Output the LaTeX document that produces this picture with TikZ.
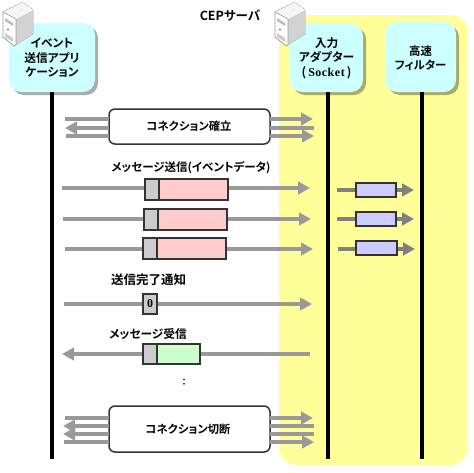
\documentclass[tikz,border=0pt]{standalone}
\usepackage{fontspec}
\setmainfont{Liberation Serif}
\newfontfamily\jp{Noto Sans CJK JP}[BoldFont={* Bold},RawFeature={+palt}]
\usetikzlibrary{arrows.meta}
\definecolor{panel}{HTML}{FFFF99}
\definecolor{cyanbox}{HTML}{CCFFFF}
\definecolor{arrowgray}{HTML}{999999}
\definecolor{darkgray}{HTML}{808080}
\definecolor{edge}{HTML}{333333}
\definecolor{pinkbox}{HTML}{FFCCCC}
\definecolor{greenbox}{HTML}{CCFFCC}
\definecolor{bluebox}{HTML}{CCCCFF}
\definecolor{hdr}{HTML}{CCCCCC}
\tikzset{
  msg/.style={line width=3.6pt,draw=arrowgray},
  msgh/.style={msg,-{Triangle[length=12pt,width=12.5pt]}},
  sub/.style={line width=3.6pt,draw=darkgray},
  subh/.style={sub,-{Triangle[length=12pt,width=12.5pt]}},
  lifeline/.style={line width=3.6pt,draw=black},
  lbl/.style={font=\jp\bfseries\fontsize{#1}{14.5}\selectfont,inner sep=0pt,align=center,text=black},
  lbl/.default={11.7},
  partbox/.style={rounded corners=12pt,fill=cyanbox,draw=none},
  partshadow/.style={rounded corners=12pt,fill=black,fill opacity=0.33,draw=none},
  conbox/.style={rounded corners=6pt,fill=white,draw=edge,line width=1.5pt},
  block/.style={draw=edge,line width=1.5pt},
}
\newcommand{\servericon}[2]{%
  \begin{scope}[shift={(#1,#2)}]
    \fill[white,draw=gray!80,line width=.7pt,line join=round] (0,10) -- (20,0) -- (30,8) -- (30,32) -- (11,44) -- (0,35) -- cycle;
    \fill[gray!35] (13,17) -- (30,8) -- (30,32) -- (13,43) -- cycle;
    \fill[gray!8] (0,10) -- (20,0) -- (30,8) -- (13,17) -- cycle;
    \draw[gray!80,line width=.6pt] (13,17) -- (13,43) (0,10) -- (13,17);
    \fill[gray!55] (2,16) -- (10,21) -- (10,24) -- (2,19) -- cycle;
    \fill[gray!40] (2,31) -- (10,36) -- (10,40) -- (2,35) -- cycle;
    \fill[cyan!70!blue] (5,27.5) circle (1pt);
  \end{scope}}
\begin{document}
\begin{tikzpicture}[x=1pt,y=-1pt]
\useasboundingbox (0,0) rectangle (474,472);
\fill[white] (0,0) rectangle (474,472);
\fill[panel,rounded corners=18pt] (279,15) rectangle (468,465);
% parts
\fill[partshadow] (12,26) rectangle (98,95);
\fill[partshadow] (293,27) rectangle (366,95);
\fill[partshadow] (388,25) rectangle (459,95);
\node[partbox,minimum width=86pt,minimum height=69pt,inner sep=0pt] (app) at (52,57.5) {};
\node[partbox,minimum width=73pt,minimum height=68pt,inner sep=0pt] (adapter) at (326.5,58) {};
\node[partbox,minimum width=71pt,minimum height=70pt,inner sep=0pt] (filter) at (420.5,57) {};
\servericon{3}{2}
\servericon{275}{2}
\node[lbl] at (52,58) {イベント\\送信アプリ\\ケーション};
\node[lbl] at (326.5,58) {入力\\アダプター\\{\fontsize{12}{14.5}\selectfont (\,}{\rmfamily\bfseries\fontsize{12}{14.5}\selectfont S\kern.5pt o\kern.5pt c\kern.5pt k\kern.5pt e\kern.5pt t}{\fontsize{12}{14.5}\selectfont \,)}};
\node[lbl=11.4] at (420.5,58) {高速\\フィルター};
\node[lbl=12.5] (server) at (230,16) {CEPサーバ};
% lifelines
\coordinate (append) at (52,459);
\coordinate (adend) at (328,459);
\coordinate (fiend) at (422,459);
\draw[lifeline] (52,92) -- (append);
\draw[lifeline] (328,92) -- (adend);
\draw[lifeline] (422,92) -- (fiend);
% connection
\node[conbox,minimum width=161pt,minimum height=35pt,inner sep=0pt,outer sep=0pt] (open) at (189.5,126.5) {};
\node[lbl=11.3] at (189,126.5) {コネクション確立};
\coordinate (o1l) at (65,119); \coordinate (o1r) at (313,119);
\coordinate (o2l) at (65,128); \coordinate (o2r) at (314,128);
\coordinate (o3l) at (66,136); \coordinate (o3r) at (314,136);
\draw[msg] (o1l) -- (o1l-|open.west);
\draw[msgh] (o1r-|open.east) -- (o1r);
\draw[msgh] (o2l-|open.west) -- (o2l);
\draw[msg] (o2r-|open.east) -- (o2r);
\draw[msg] (o3l) -- (o3l-|open.west);
\draw[msgh] (o3r-|open.east) -- (o3r);
% send
\node[lbl=11.5] (sendlbl) at (191,168) {メッセージ送信(イベントデータ)};
\coordinate (s1l) at (62,188); \coordinate (s1r) at (310,188);
\coordinate (s2l) at (63,219); \coordinate (s2r) at (311,219);
\coordinate (s3l) at (65,249); \coordinate (s3r) at (313,249);
\draw[msgh] (s1l) -- (s1r);
\draw[msgh] (s2l) -- (s2r);
\draw[msgh] (s3l) -- (s3r);
\node[block,fill=hdr,minimum width=14pt,minimum height=21pt,inner sep=0pt,outer sep=0pt] (h1) at (152,189.5) {};
\node[block,fill=pinkbox,minimum width=69pt,minimum height=21pt,inner sep=0pt,outer sep=0pt] (p1) at (193.5,189.5) {};
\node[block,fill=hdr,minimum width=14pt,minimum height=21pt,inner sep=0pt,outer sep=0pt] (h2) at (151,219.5) {};
\node[block,fill=pinkbox,minimum width=69pt,minimum height=21pt,inner sep=0pt,outer sep=0pt] (p2) at (192.5,219.5) {};
\node[block,fill=hdr,minimum width=14pt,minimum height=21pt,inner sep=0pt,outer sep=0pt] (h3) at (150,248.5) {};
\node[block,fill=pinkbox,minimum width=69pt,minimum height=21pt,inner sep=0pt,outer sep=0pt] (p3) at (191.5,248.5) {};
% filter flow
\coordinate (f1l) at (337,190); \coordinate (f1r) at (414,190);
\coordinate (f2l) at (337,219); \coordinate (f2r) at (414,219);
\coordinate (f3l) at (338,249); \coordinate (f3r) at (415,249);
\draw[subh] (f1l) -- (f1r);
\draw[subh] (f2l) -- (f2r);
\draw[subh] (f3l) -- (f3r);
\node[block,fill=bluebox,minimum width=40pt,minimum height=14pt,inner sep=0pt,outer sep=0pt] (b1) at (376,190) {};
\node[block,fill=bluebox,minimum width=40pt,minimum height=14pt,inner sep=0pt,outer sep=0pt] (b2) at (376,219) {};
\node[block,fill=bluebox,minimum width=41pt,minimum height=14pt,inner sep=0pt,outer sep=0pt] (b3) at (376.5,248) {};
% completion
\node[lbl=12.5] (donelbl) at (148.5,280) {送信完了通知};
\coordinate (dl) at (64,304); \coordinate (dr) at (312,304);
\draw[msgh] (dl) -- (dr);
\node[block,fill=hdr,minimum width=14pt,minimum height=20pt,inner sep=0pt,outer sep=0pt,font=\rmfamily\bfseries\fontsize{12}{12}\selectfont] (zero) at (150,304) {0};
% receive
\node[lbl=11.7] (recvlbl) at (148,334) {メッセージ受信};
\coordinate (rl) at (62,354); \coordinate (rr) at (310,354);
\draw[msgh] (rr) -- (rl);
\node[block,fill=hdr,minimum width=14pt,minimum height=20pt,inner sep=0pt,outer sep=0pt] (h4) at (150,354) {};
\node[block,fill=greenbox,minimum width=43pt,minimum height=20pt,inner sep=0pt,outer sep=0pt] (g4) at (178.5,354) {};
\node[lbl=9] (dots) at (184,382) {：};
% disconnect
\node[conbox,minimum width=161pt,minimum height=46pt,inner sep=0pt,outer sep=0pt] (close) at (189.5,429) {};
\node[lbl=11.3] at (188,429) {コネクション切断};
\coordinate (c1l) at (65,418); \coordinate (c1r) at (313,418);
\coordinate (c2l) at (63,426); \coordinate (c2r) at (314,426);
\coordinate (c3l) at (63,434); \coordinate (c3r) at (314,434);
\coordinate (c4l) at (64,442); \coordinate (c4r) at (314,442);
\draw[msg] (c1l) -- (c1l-|close.west);
\draw[msgh] (c1r-|close.east) -- (c1r);
\draw[msgh] (c2l-|close.west) -- (c2l);
\draw[msg] (c2r-|close.east) -- (c2r);
\draw[msgh] (c3l-|close.west) -- (c3l);
\draw[msg] (c3r-|close.east) -- (c3r);
\draw[msg] (c4l) -- (c4l-|close.west);
\draw[msgh] (c4r-|close.east) -- (c4r);
\end{tikzpicture}
\end{document}
